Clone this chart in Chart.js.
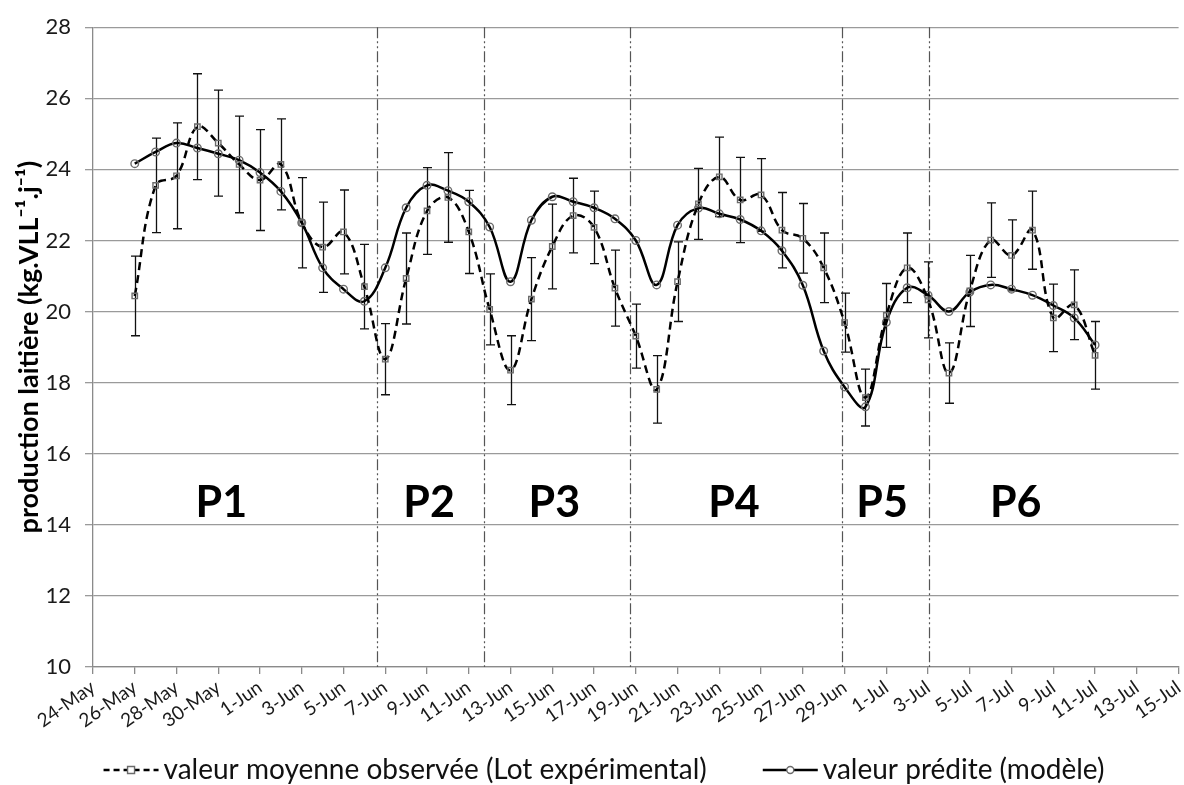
<!DOCTYPE html>
<html>
<head>
<meta charset="utf-8">
<script src="https://cdn.jsdelivr.net/npm/chart.js@4.4.0/dist/chart.umd.min.js"></script>
<style>
  html, body { margin: 0; padding: 0; background: #fff; }
  #wrap { width: 1184px; height: 785px; }
</style>
</head>
<body>
<div id="wrap"><canvas id="c" width="1184" height="785"></canvas></div>
<script>
// Axis tick labels, every two days starting 24-May (day 0)
const tickLabels = ['24-May','26-May','28-May','30-May','1-Jun','3-Jun','5-Jun','7-Jun','9-Jun',
  '11-Jun','13-Jun','15-Jun','17-Jun','19-Jun','21-Jun','23-Jun','25-Jun','27-Jun','29-Jun',
  '1-Jul','3-Jul','5-Jul','7-Jul','9-Jul','11-Jul','13-Jul','15-Jul'];

// Daily measurements run from 26-May (day 2) to 11-Jul (day 48)
const firstDay = 2;

// Mean observed milk yield, experimental group (kg/cow/day)
const observed = [20.44, 23.55, 23.82, 25.20, 24.74, 24.14, 23.70, 24.14, 22.50, 21.81,
  22.24, 20.70, 18.66, 20.93, 22.83, 23.21, 22.24, 20.06, 18.35, 20.35,
  21.83, 22.70, 22.37, 20.66, 19.31, 17.81, 20.84, 23.03, 23.79, 23.14,
  23.28, 22.29, 22.06, 21.23, 19.69, 17.58, 19.89, 21.23, 20.33, 18.27,
  20.58, 22.01, 21.58, 22.29, 19.82, 20.19, 18.77];

// Half-width of the error bars on the observed means
const observedErr = [1.12, 1.33, 1.49, 1.49, 1.49, 1.36, 1.42, 1.28, 1.27, 1.27,
  1.18, 1.19, 1.00, 1.28, 1.22, 1.26, 1.17, 1.00, 0.97, 1.17,
  1.19, 1.05, 1.02, 1.07, 0.90, 0.95, 1.12, 1.00, 1.12, 1.20,
  1.02, 1.06, 0.98, 0.98, 0.83, 0.80, 0.90, 0.98, 1.07, 0.85,
  1.00, 1.05, 1.00, 1.10, 0.95, 0.98, 0.95];

// Model prediction
const predicted = [24.16, 24.49, 24.74, 24.60, 24.44, 24.26, 23.91, 23.38, 22.50, 21.23,
  20.63, 20.29, 21.23, 22.92, 23.55, 23.40, 23.09, 22.38, 20.84, 22.57,
  23.23, 23.09, 22.92, 22.61, 22.00, 20.75, 22.43, 22.91, 22.75, 22.59,
  22.27, 21.71, 20.74, 18.89, 17.88, 17.32, 19.70, 20.67, 20.46, 20.00,
  20.55, 20.75, 20.63, 20.46, 20.17, 19.82, 19.06];

// Period boundaries (day number) and period labels
const periodBounds = [13.6, 18.75, 25.7, 35.9, 40.05];
const periodNames = ['P1', 'P2', 'P3', 'P4', 'P5', 'P6'];
const periodCenters = [6.15, 16.1, 22.1, 30.7, 37.8, 44.2];
const periodLabelY = 14.6;

const legendNames = ['valeur moyenne observée (Lot expérimental)', 'valeur prédite (modèle)'];

const FONT = 'Lato, "Open Sans", sans-serif';

const toPoints = arr => arr.map((v, i) => ({ x: firstDay + i, y: v }));

// Vertical dash-dot separators between periods, drawn under the curves
const periodLines = {
  id: 'periodLines',
  beforeDatasetsDraw(chart) {
    const { ctx, chartArea, scales: { x } } = chart;
    ctx.save();
    ctx.strokeStyle = '#555';
    ctx.lineWidth = 1.2;
    ctx.setLineDash([11, 3, 2, 3, 2, 3]);
    periodBounds.forEach(d => {
      const px = Math.round(x.getPixelForValue(d)) + 0.5;
      ctx.beginPath();
      ctx.moveTo(px, chartArea.top);
      ctx.lineTo(px, chartArea.bottom);
      ctx.stroke();
    });
    ctx.restore();
  }
};

// Error bars on the observed means
const errorBars = {
  id: 'errorBars',
  beforeDatasetsDraw(chart) {
    const { ctx, scales: { x, y } } = chart;
    ctx.save();
    ctx.strokeStyle = '#111';
    ctx.lineWidth = 1.3;
    observed.forEach((v, i) => {
      const px = Math.round(x.getPixelForValue(firstDay + i)) + 0.5;
      const top = y.getPixelForValue(v + observedErr[i]);
      const bot = y.getPixelForValue(v - observedErr[i]);
      ctx.beginPath();
      ctx.moveTo(px, top); ctx.lineTo(px, bot);
      ctx.moveTo(px - 4.5, top); ctx.lineTo(px + 4.5, top);
      ctx.moveTo(px - 4.5, bot); ctx.lineTo(px + 4.5, bot);
      ctx.stroke();
    });
    ctx.restore();
  }
};

// Period names and the legend row
const annotations = {
  id: 'annotations',
  afterDraw(chart) {
    const { ctx, scales: { x, y } } = chart;
    ctx.save();
    ctx.fillStyle = '#000';
    ctx.font = 'bold 43px ' + FONT;
    ctx.textAlign = 'center';
    ctx.textBaseline = 'middle';
    periodNames.forEach((n, i) => {
      ctx.fillText(n, x.getPixelForValue(periodCenters[i]), y.getPixelForValue(periodLabelY));
    });

    // legend
    ctx.font = '28px ' + FONT;
    ctx.textAlign = 'left';
    ctx.fillStyle = '#111';
    const ly = 770;
    const sample = 55, textGap = 5, itemGap = 56;
    const w1 = ctx.measureText(legendNames[0]).width;
    const w2 = ctx.measureText(legendNames[1]).width;
    const total = sample + textGap + w1 + itemGap + sample + textGap + w2;
    let lx = 604 - total / 2;
    const drawSample = (x0, dashed, square) => {
      ctx.save();
      ctx.strokeStyle = '#000';
      ctx.lineWidth = 2.5;
      ctx.setLineDash(dashed ? [6, 4] : []);
      ctx.beginPath();
      ctx.moveTo(x0, ly); ctx.lineTo(x0 + sample, ly);
      ctx.stroke();
      ctx.setLineDash([]);
      ctx.lineWidth = 1.4;
      ctx.strokeStyle = '#6b6b6b';
      ctx.fillStyle = '#fff';
      const cx = x0 + sample / 2;
      ctx.beginPath();
      if (square) ctx.rect(cx - 3.5, ly - 3.5, 7, 7);
      else ctx.arc(cx, ly, 3.5, 0, Math.PI * 2);
      ctx.fill();
      ctx.stroke();
      ctx.restore();
    };
    drawSample(lx, true, true);
    ctx.fillText(legendNames[0], lx + sample + textGap, ly);
    lx += sample + textGap + w1 + itemGap;
    drawSample(lx, false, false);
    ctx.fillText(legendNames[1], lx + sample + textGap, ly);
    ctx.restore();
  }
};

const markerCommon = {
  pointRadius: 3.8,
  pointBorderColor: '#6b6b6b',
  pointBackgroundColor: 'rgba(255,255,255,0)',
  pointBorderWidth: 1.4,
  borderColor: '#000',
  borderWidth: 2.5,
  tension: 0.4,
  fill: false
};

new Chart(document.getElementById('c'), {
  type: 'line',
  data: {
    datasets: [
      Object.assign({
        label: legendNames[0],
        data: toPoints(observed),
        borderDash: [8, 5],
        pointStyle: 'rect'
      }, markerCommon),
      Object.assign({
        label: legendNames[1],
        data: toPoints(predicted),
        pointStyle: 'circle'
      }, markerCommon)
    ]
  },
  options: {
    responsive: false,
    animation: false,
    devicePixelRatio: 1,
    layout: { padding: { top: 17, right: 3, left: 0, bottom: 0 } },
    plugins: {
      legend: { display: false },
      tooltip: { enabled: false }
    },
    scales: {
      x: {
        type: 'linear',
        min: 0,
        max: 52,
        afterFit(scale) {
          scale.height = 118;
          scale.paddingLeft = 0;
          scale.paddingRight = 0;
        },
        ticks: {
          stepSize: 2,
          autoSkip: false,
          maxRotation: 35,
          minRotation: 35,
          padding: 2,
          color: '#1a1a1a',
          font: { family: FONT, size: 19 },
          callback: v => tickLabels[v / 2]
        },
        grid: { drawOnChartArea: false, drawTicks: true, tickLength: 7, color: '#8a8a8a', lineWidth: 1.3 },
        border: { color: '#8a8a8a', width: 1.3 }
      },
      y: {
        min: 10,
        max: 28,
        afterFit(scale) { scale.width = 93; },
        ticks: {
          stepSize: 2,
          padding: 14,
          color: '#1a1a1a',
          font: { family: FONT, size: 22 }
        },
        grid: { color: '#9a9a9a', lineWidth: 1.3, tickLength: 8 },
        border: { color: '#8a8a8a', width: 1.3 },
        title: {
          display: true,
          text: 'production laitière (kg.VLL⁻¹.j⁻¹)',
          color: '#000',
          font: { family: FONT, size: 27, weight: 'bold' },
          padding: { top: 13, bottom: 0 }
        }
      }
    }
  },
  plugins: [periodLines, errorBars, annotations]
});
</script>
</body>
</html>
